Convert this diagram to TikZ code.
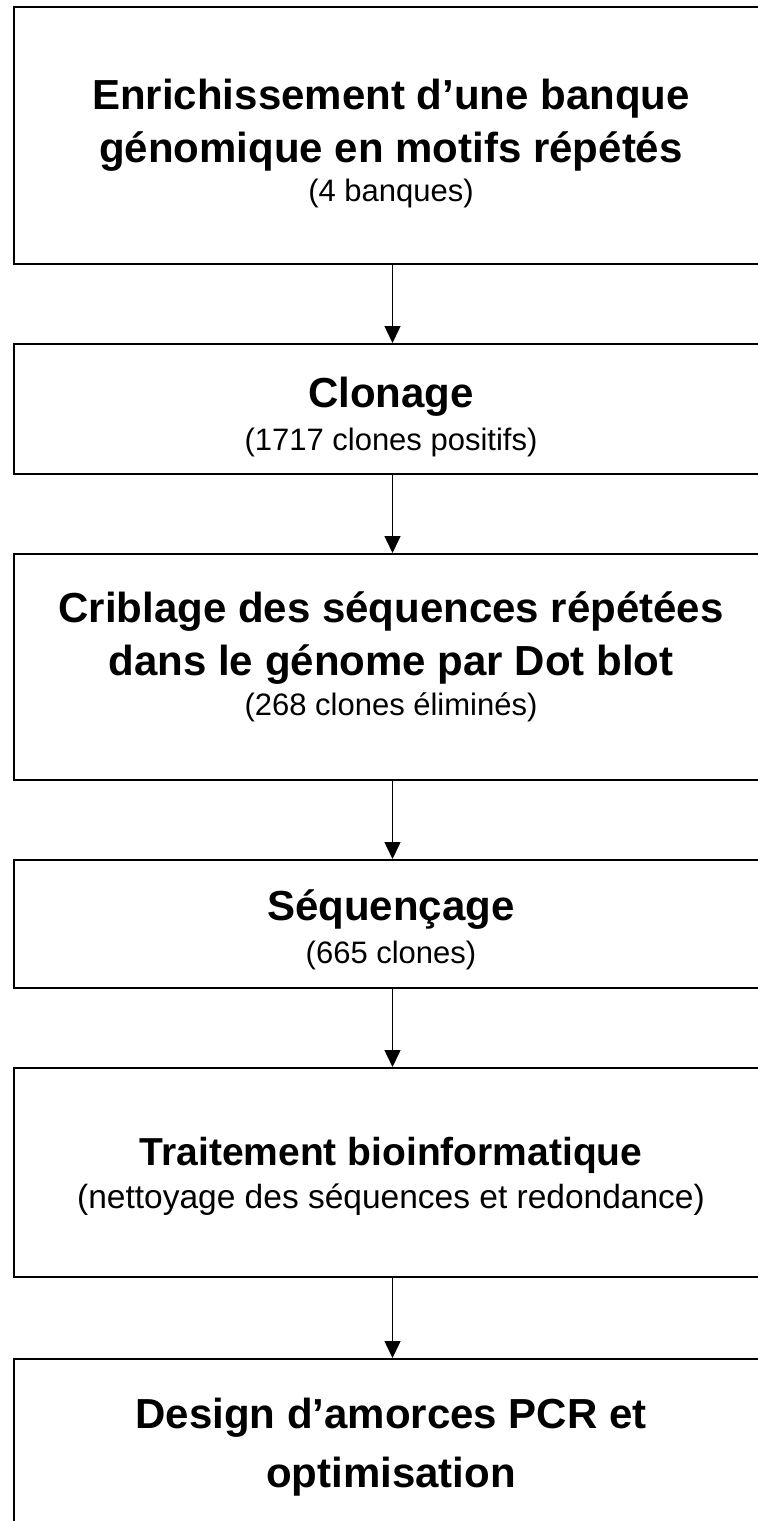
\documentclass[tikz,border=0pt]{standalone}
\usepackage{fontspec}
\setmainfont{Liberation Sans}
\usetikzlibrary{arrows.meta}
\tikzset{
  stepbox/.style={draw=black, line width=2bp, rectangle, inner sep=0pt, anchor=north west, minimum width=757bp},
  flow/.style={draw=black, line width=1.5bp, -{Triangle[length=17bp,width=16bp]}},
  title/.style={anchor=base, inner sep=0pt, font=\fontsize{42bp}{48bp}\selectfont\bfseries},
  sub/.style={anchor=base, inner sep=0pt, font=\fontsize{31bp}{36bp}\selectfont}
}
\begin{document}
\begin{tikzpicture}[x=1bp,y=-1bp]
\useasboundingbox (0,0) rectangle (758,1521);
\fill[white] (0,0) rectangle (758,1521);
\clip (0,0) rectangle (758,1521);
\node[stepbox, minimum height=257bp] (b1) at (13,6) {};
\node[stepbox, minimum height=130bp] (b2) at (13,343) {};
\node[stepbox, minimum height=226bp] (b3) at (13,553) {};
\node[stepbox, minimum height=128bp] (b4) at (13,859) {};
\node[stepbox, minimum height=209bp] (b5) at (13,1067) {};
\node[stepbox, minimum height=180bp] (b6) at (13,1358) {};
\draw[flow] (b1.south) -- (b2.north);
\draw[flow] (b2.south) -- (b3.north);
\draw[flow] (b3.south) -- (b4.north);
\draw[flow] (b4.south) -- (b5.north);
\draw[flow] (b5.south) -- (b6.north);
\node[title] (t1a) at (391,110) {Enrichissement d’une banque};
\node[title] (t1b) at (391,162) {génomique en motifs répétés};
\node[sub] (t1c) at (391,201) {(4 banques)};
\node[title] (t2a) at (391,407) {Clonage};
\node[sub] (t2b) at (391,450) {(1717 clones positifs)};
\node[title] (t3a) at (391,622) {Criblage des séquences répétées};
\node[title] (t3b) at (391,675) {dans le génome par Dot blot};
\node[sub] (t3c) at (391,715) {(268 clones éliminés)};
\node[title] (t4a) at (391,920) {Séquençage};
\node[sub] (t4b) at (391,963) {(665 clones)};
\node[title, font=\fontsize{39bp}{45bp}\selectfont\bfseries] (t5a) at (391,1165) {Traitement bioinformatique};
\node[sub, font=\fontsize{33.5bp}{39bp}\selectfont] (t5b) at (391,1208) {(nettoyage des séquences et redondance)};
\node[title] (t6a) at (391,1428) {Design d’amorces PCR et};
\node[title] (t6b) at (391,1487) {optimisation};
\end{tikzpicture}
\end{document}
